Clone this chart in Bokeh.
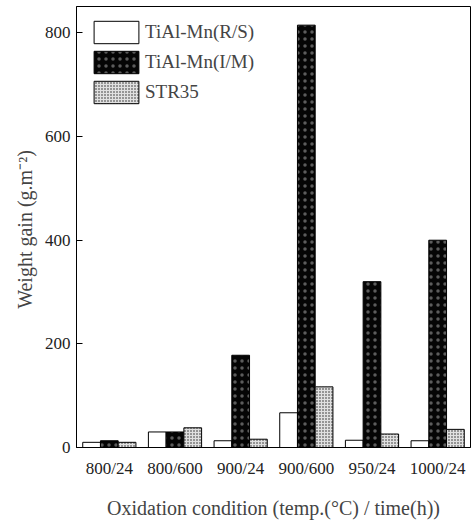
from bokeh.plotting import figure
from bokeh.models import FactorRange, Range1d, ColumnDataSource, Legend, LegendItem
from bokeh.transform import dodge
from bokeh.embed import file_html
from bokeh.resources import INLINE

conditions = ["800/24", "800/600", "900/24", "900/600", "950/24", "1000/24"]
rs_values = [10, 30, 13, 67, 14, 13]
im_values = [13, 30, 178, 815, 320, 400]
str35_values = [10, 38, 16, 117, 26, 35]
y_ticks = [0, 200, 400, 600, 800]

FONT = "Liberation Serif"

src = ColumnDataSource(dict(cond=conditions, rs=rs_values, im=im_values, st=str35_values))

p = figure(x_range=FactorRange(*conditions, range_padding=0), y_range=Range1d(0, 851),
           width=475, height=521, output_backend="svg", toolbar_location=None,
           min_border_left=76, min_border_right=5, min_border_top=6, min_border_bottom=65)

bw = 0.27
r1 = p.vbar(x=dodge("cond", -bw, range=p.x_range), top="rs", width=bw, source=src,
            fill_color="white", line_color="black", line_width=1)
r2 = p.vbar(x=dodge("cond", 0, range=p.x_range), top="im", width=bw, source=src,
            fill_color="#050505", line_color="black", line_width=1,
            hatch_pattern="dot", hatch_color="white", hatch_alpha=0.35,
            hatch_scale=7, hatch_weight=0.5)
r3 = p.vbar(x=dodge("cond", bw, range=p.x_range), top="st", width=bw, source=src,
            fill_color="#e0e0e0", line_color="black", line_width=1,
            hatch_pattern="dot", hatch_color="#222222", hatch_scale=3, hatch_weight=1.0)

legend = Legend(items=[LegendItem(label="TiAl-Mn(R/S)", renderers=[r1]),
                       LegendItem(label="TiAl-Mn(I/M)", renderers=[r2]),
                       LegendItem(label="STR35", renderers=[r3])],
                location="top_left", border_line_color=None, background_fill_alpha=0,
                glyph_width=56, glyph_height=28, spacing=2, label_text_font=FONT,
                label_text_font_size="19px", margin=12, padding=5, label_standoff=1)
p.add_layout(legend, "center")

p.grid.grid_line_color = None
p.outline_line_color = "black"
p.outline_line_width = 1

p.yaxis.ticker = y_ticks
p.yaxis.minor_tick_line_color = None
p.yaxis.major_tick_in = 6
p.yaxis.major_tick_out = 0
p.xaxis.major_tick_line_color = None
p.xaxis.minor_tick_line_color = None
p.axis.axis_line_color = "black"
p.axis.major_label_text_font = FONT
p.axis.major_label_text_font_size = "17px"
p.axis.major_label_text_color = "#222222"
p.axis.axis_label_text_font = FONT
p.axis.axis_label_text_font_size = "20px"
p.axis.axis_label_text_font_style = "normal"
p.xaxis.axis_label = "Oxidation condition (temp.(\u00b0C) / time(h))"
p.yaxis.axis_label = "Weight  gain (g.m\u207b\u00b2)"
p.xaxis.major_label_standoff = 5
p.xaxis.axis_label_standoff = 16
p.yaxis.major_label_standoff = 6
p.yaxis.axis_label_standoff = 6

open("out.html", "w").write(file_html(p, INLINE))
